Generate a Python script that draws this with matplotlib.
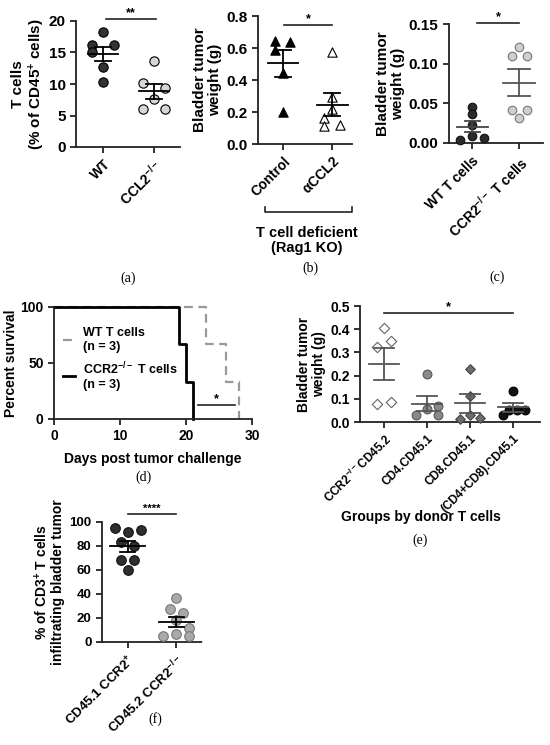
import numpy as np
from matplotlib import pyplot as plt
from matplotlib.lines import Line2D

plt.rcParams['font.family'] = ['Liberation Sans', 'DejaVu Sans']
plt.rcParams['font.weight'] = 'bold'
plt.rcParams['axes.labelweight'] = 'bold'
plt.rcParams['mathtext.fontset'] = 'custom'
plt.rcParams['mathtext.rm'] = 'Liberation Sans:bold'
plt.rcParams['mathtext.default'] = 'regular'

# ---- data ----
# (a) T cells, % of CD45+ cells
a_labels = ['WT', r'CCL2$^{-/-}$']
a_wt = [18.2, 16.2, 16.2, 15.1, 12.7, 10.3]
a_ccl2 = [13.6, 10.2, 9.4, 7.6, 6.1, 6.1]

# (b) bladder tumor weight, Rag1 KO
b_labels = ['Control', r'$\alpha$CCL2']
b_control = [0.646, 0.635, 0.59, 0.446, 0.20]
b_accl2 = [0.577, 0.296, 0.217, 0.16, 0.11, 0.12]

# (c) bladder tumor weight, T cell transfer
c_labels = ['WT T cells', r'CCR2$^{-/-}$ T cells']
c_wt = [0.045, 0.036, 0.023, 0.004, 0.009, 0.006]
c_ccr2 = [0.121, 0.110, 0.110, 0.041, 0.041, 0.032]

# (d) survival
d_days_wt = [0, 23, 26, 28]
d_surv_wt = [100, 66.7, 33.3, 0]
d_days_ccr2 = [0, 19, 20, 21]
d_surv_ccr2 = [100, 66.7, 33.3, 0]

# (e) bladder tumor weight by donor T cells
e_labels = [r'CCR2$^{-/-}$CD45.2', 'CD4.CD45.1', 'CD8.CD45.1', '(CD4+CD8).CD45.1']
e_ccr2 = [0.406, 0.324, 0.35, 0.077, 0.088]
e_cd4 = [0.208, 0.031, 0.056, 0.070, 0.031]
e_cd8 = [0.229, 0.110, 0.014, 0.029, 0.017]
e_cd48 = [0.133, 0.030, 0.050, 0.050, 0.050]

# (f) % of CD3+ T cells infiltrating bladder tumor
f_labels = [r'CD45.1 CCR2$^{+}$', r'CD45.2 CCR2$^{-/-}$']
f_ccr2pos = [94.7, 91.4, 93.1, 83.6, 80.0, 68.3, 68.3, 60.0]
f_ccr2ko = [36.4, 27.2, 24.4, 18.3, 11.4, 5.0, 6.7, 5.0]

# ---- layout ----
W, H = 550, 745
fig = plt.figure(figsize=(W / 100, H / 100), dpi=100)


def add_ax(x0, y0, x1, y1):
    ax = fig.add_axes([x0 / W, 1 - y1 / H, (x1 - x0) / W, (y1 - y0) / H])
    for s in ['top', 'right']:
        ax.spines[s].set_visible(False)
    for s in ['left', 'bottom']:
        ax.spines[s].set_linewidth(1.3)
        ax.spines[s].set_color('#222222')
    ax.tick_params(width=1.3, length=4, color='#222222')
    return ax


def ftext(x, y, s, **kw):
    fig.text(x / W, 1 - y / H, s, **kw)


def fline(xs, ys, **kw):
    fig.add_artist(Line2D([x / W for x in xs], [1 - y / H for y in ys],
                          transform=fig.transFigure, **kw))


def dots(ax, xpos, vals, offs, s, face, edge, marker='o', lw=0.8):
    ax.scatter(np.array(offs[:len(vals)]) + xpos, vals, s=s, c=face,
               edgecolors=edge, linewidths=lw, marker=marker, zorder=3, clip_on=False)


def mean_sem(ax, xpos, vals, color, mw=0.3, cw=0.15, lw=1.3):
    v = np.array(vals)
    m = v.mean()
    e = v.std(ddof=1) / np.sqrt(len(v))
    ax.plot([xpos - mw, xpos + mw], [m, m], color=color, lw=lw, zorder=4)
    ax.plot([xpos, xpos], [m - e, m + e], color=color, lw=lw, zorder=4)
    for yy in (m - e, m + e):
        ax.plot([xpos - cw, xpos + cw], [yy, yy], color=color, lw=lw, zorder=4)


def sig(ax, x0, x1, y, stars, fs=9):
    ax.plot([x0, x1], [y, y], color='#222222', lw=1.2, clip_on=False)
    ax.text((x0 + x1) / 2, y, stars, ha='center', va='bottom', fontsize=fs, clip_on=False)


def rot_labels(ax, labels, fs):
    ax.set_xticklabels(labels, rotation=45, ha='right', rotation_mode='anchor', fontsize=fs)


cap_font = dict(family='Liberation Serif', weight='normal', fontsize=10, ha='center', va='center')

# (a)
ax = add_ax(76, 21, 180, 147)
ax.set_xlim(-0.53, 1.51)
ax.set_ylim(0, 20)
ax.set_yticks([0, 5, 10, 15, 20])
ax.set_xticks([0, 1])
dots(ax, 0, a_wt, [0, -0.22, 0.22, -0.22, 0, 0], 45, '#333333', 'black')
dots(ax, 1, a_ccl2, [0, -0.22, 0.22, 0, -0.22, 0.22], 45, '#d6d6d6', 'black')
mean_sem(ax, 0, a_wt, 'black')
mean_sem(ax, 1, a_ccl2, 'black')
sig(ax, 0.05, 1.03, 20.3, '**')
ax.tick_params(labelsize=11)
rot_labels(ax, a_labels, 10)
ax.set_ylabel('T cells\n(% of CD45$^{+}$ cells)', fontsize=11, labelpad=1, linespacing=1.1)
ftext(128, 278, '(a)', **cap_font)

# (b)
ax = add_ax(258, 16, 352, 144)
ax.set_xlim(-0.51, 1.4)
ax.set_ylim(0, 0.8)
ax.set_yticks([0, 0.2, 0.4, 0.6, 0.8])
ax.set_xticks([0, 1])
dots(ax, 0, b_control, [-0.16, 0.15, -0.16, 0, 0], 45, 'black', 'black', marker='^')
dots(ax, 1, b_accl2, [0, 0, 0, -0.17, -0.17, 0.16], 45, 'white', 'black', marker='^')
mean_sem(ax, 0, b_control, 'black', mw=0.31, cw=0.16)
mean_sem(ax, 1, b_accl2, 'black', mw=0.31, cw=0.16)
sig(ax, 0.02, 1.0, 0.745, '*')
ax.tick_params(labelsize=11)
ax.yaxis.set_major_formatter(plt.FormatStrFormatter('%.1f'))
rot_labels(ax, b_labels, 10)
ax.set_ylabel('Bladder tumor\nweight (g)', fontsize=11, labelpad=3, linespacing=1.1)
fline([265, 265, 352, 352], [207, 212, 212, 207], color='#222222', lw=1.2)
ftext(307, 233, 'T cell deficient', fontsize=10.5, ha='center', va='center')
ftext(307, 248, '(Rag1 KO)', fontsize=10.5, ha='center', va='center')
ftext(310, 268, '(b)', **cap_font)

# (c)
ax = add_ax(449, 24, 543, 143)
ax.set_xlim(-0.49, 1.51)
ax.set_ylim(0, 0.15)
ax.set_yticks([0, 0.05, 0.10, 0.15])
ax.set_xticks([0, 1])
dots(ax, 0, c_wt, [0, 0, 0, -0.26, 0, 0.26], 38, '#2b2b2b', '#111111')
dots(ax, 1, c_ccr2, [0, -0.16, 0.16, -0.16, 0.16, 0], 38, '#cfcfcf', '#777777')
mean_sem(ax, 0, c_wt, '#444444', mw=0.33, cw=0.16)
mean_sem(ax, 1, c_ccr2, '#555555', mw=0.35, cw=0.23)
sig(ax, 0.1, 1.0, 0.151, '*')
ax.tick_params(labelsize=11)
ax.yaxis.set_major_formatter(plt.FormatStrFormatter('%.2f'))
rot_labels(ax, c_labels, 10)
ax.set_ylabel('Bladder tumor\nweight (g)', fontsize=11, labelpad=3, linespacing=1.1)
ftext(497, 277, '(c)', **cap_font)

# (d)
ax = add_ax(54, 307, 252, 419)
ax.set_xlim(0, 30)
ax.set_ylim(0, 100)
ax.set_xticks([0, 10, 20, 30])
ax.set_yticks([0, 50, 100])
ax.step(d_days_wt, d_surv_wt, where='post', color='#999999', lw=1.6,
        ls=(0, (4, 2.5)), label='WT T cells\n(n = 3)', clip_on=False)
ax.step(d_days_ccr2, d_surv_ccr2, where='post', color='black', lw=2.0,
        label='CCR2$^{-/-}$ T cells\n(n = 3)', clip_on=False)
sig(ax, 21.8, 27.4, 12.5, '*', fs=9)
ax.tick_params(labelsize=10)
ax.set_ylabel('Percent survival', fontsize=10, labelpad=2)
ax.set_xlabel('Days post tumor challenge', fontsize=10, labelpad=6)
ax.legend(loc='upper left', bbox_to_anchor=(0.0, 0.9), frameon=False, fontsize=9,
          handlelength=1.0, labelspacing=0.6, handletextpad=0.6, borderaxespad=0.3)
ftext(143, 477, '(d)', **cap_font)

# (e)
ax = add_ax(360, 306, 540, 422)
ax.set_xlim(-0.56, 3.63)
ax.set_ylim(0, 0.5)
ax.set_yticks([0, 0.1, 0.2, 0.3, 0.4, 0.5])
ax.set_xticks([0, 1, 2, 3])
dots(ax, 0, e_ccr2, [0, -0.17, 0.17, -0.17, 0.17], 28, 'white', '#666666', marker='D')
dots(ax, 1, e_cd4, [0, -0.25, 0, 0.25, 0.25], 40, '#8a8a8a', '#555555')
dots(ax, 2, e_cd8, [0, 0, -0.24, 0, 0.24], 24, '#6e6e6e', '#444444', marker='D')
dots(ax, 3, e_cd48, [0, -0.24, -0.08, 0.1, 0.28], 40, '#111111', '#000000')
mean_sem(ax, 0, e_ccr2, '#555555', mw=0.35, cw=0.23)
mean_sem(ax, 1, e_cd4, '#555555', mw=0.35, cw=0.23)
mean_sem(ax, 2, e_cd8, '#555555', mw=0.35, cw=0.23)
mean_sem(ax, 3, e_cd48, '#555555', mw=0.35, cw=0.23)
sig(ax, 0, 3.0, 0.47, '*', fs=9)
ax.tick_params(labelsize=10)
ax.yaxis.set_major_formatter(plt.FormatStrFormatter('%.1f'))
rot_labels(ax, e_labels, 8.5)
ax.set_ylabel('Bladder tumor\nweight (g)', fontsize=10, labelpad=3, linespacing=1.1)
ftext(421, 517, 'Groups by donor T cells', fontsize=10, ha='center', va='center')
ftext(420, 540, '(e)', **cap_font)

# (f)
ax = add_ax(102, 522, 202, 642)
ax.set_xlim(-0.53, 1.53)
ax.set_ylim(0, 100)
ax.set_yticks([0, 20, 40, 60, 80, 100])
ax.set_xticks([0, 1])
ax.spines['bottom'].set_linestyle((0, (1, 1)))
dots(ax, 0, f_ccr2pos, [-0.27, 0, 0.27, -0.13, 0.13, -0.13, 0.13, 0], 48, '#2e2e2e', '#111111')
dots(ax, 1, f_ccr2ko, [0, -0.13, 0.13, 0, 0.27, -0.27, 0, 0.27], 48, '#a9a9a9', '#777777')
mean_sem(ax, 0, f_ccr2pos, 'black', mw=0.36, cw=0.16)
mean_sem(ax, 1, f_ccr2ko, 'black', mw=0.36, cw=0.16)
sig(ax, 0.0, 1.0, 107, '****', fs=8)
ax.tick_params(labelsize=9.5)
rot_labels(ax, f_labels, 9.5)
ax.set_ylabel('% of CD3$^{+}$ T cells\ninfiltrating bladder tumor', fontsize=10,
              labelpad=3, linespacing=1.1)
ftext(155, 719, '(f)', **cap_font)

fig.savefig('out.png', dpi=100)
